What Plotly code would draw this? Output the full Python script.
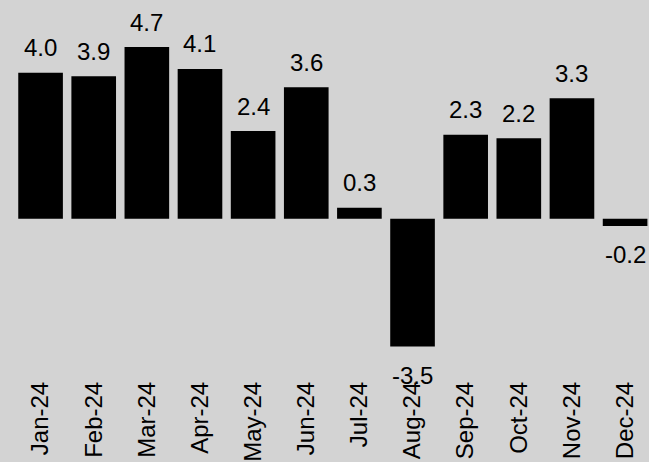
import plotly.graph_objects as go

months = ["Jan-24", "Feb-24", "Mar-24", "Apr-24", "May-24", "Jun-24",
          "Jul-24", "Aug-24", "Sep-24", "Oct-24", "Nov-24", "Dec-24"]
values = [4.0, 3.9, 4.7, 4.1, 2.4, 3.6, 0.3, -3.5, 2.3, 2.2, 3.3, -0.2]
labels = [f"{v:.1f}" for v in values]

BG = "#d3d3d3"
FONT = "Liberation Sans, Arial, sans-serif"

fig = go.Figure()
fig.add_trace(go.Bar(
    x=months, y=values,
    marker=dict(color="black", line=dict(width=0)),
    hoverinfo="skip",
))

for m, v, t in zip(months, values, labels):
    fig.add_annotation(
        x=m, y=v, text=t, showarrow=False,
        yanchor="middle", xanchor="center",
        yshift=25 if v >= 0 else -29,
        font=dict(family=FONT, size=24, color="black"),
    )

fig.update_layout(
    width=649, height=462,
    margin=dict(l=14, r=0, t=0, b=83),
    paper_bgcolor=BG, plot_bgcolor=BG,
    bargap=0.16,
    showlegend=False,
    font=dict(family=FONT, size=24, color="black"),
    xaxis=dict(
        type="category",
        range=[-0.5, 11.45],
        tickangle=-90,
        showgrid=False, zeroline=False, showline=False, ticks="",
        tickfont=dict(family=FONT, size=24, color="black"),
    ),
    yaxis=dict(
        range=[-4.31, 5.99],
        visible=False, showgrid=False, zeroline=False,
    ),
)

fig.write_html("out.html")
